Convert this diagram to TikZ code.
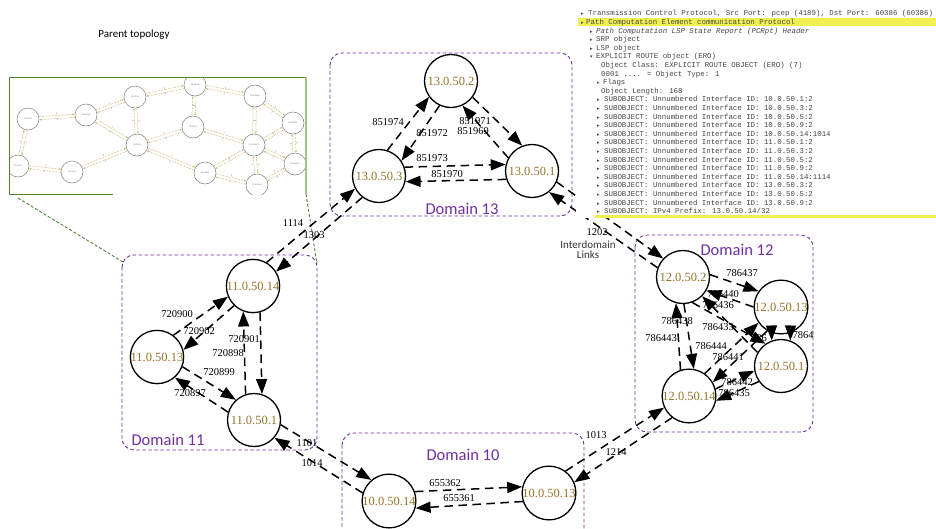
\documentclass[tikz,border=0pt]{standalone}
\usepackage{fontspec}
\setmainfont{Liberation Serif}
\newfontfamily\calfont{Carlito}
\newfontfamily\wsmono{Liberation Mono}
\newfontfamily\dvfont{DejaVu Sans}
\usetikzlibrary{arrows.meta}
\definecolor{dompurple}{RGB}{112,48,160}
\definecolor{nodegold}{RGB}{148,116,42}
\definecolor{pgreen}{RGB}{84,130,53}
\definecolor{plgreen}{RGB}{160,195,135}
\definecolor{ptan}{RGB}{214,190,120}
\definecolor{wsgray}{RGB}{70,70,70}
\definecolor{wsyellow}{RGB}{240,240,80}
\tikzset{
 rnode/.style={circle,draw=black,line width=1.3pt,fill=white,minimum size=53pt,inner sep=0pt,text=nodegold,font=\fontsize{12.5}{12}\selectfont},
 elab/.style={font=\fontsize{10.5}{10}\selectfont,inner sep=0pt,text=black},
 lnk/.style={draw=black,line width=1.5pt,dash pattern=on 8.5pt off 5.5pt,-{Triangle[length=15pt,width=11pt]}},
 dombox/.style={draw=dompurple,line width=0.9pt,dash pattern=on 3.5pt off 2.5pt,rounded corners=12pt},
 domlab/.style={font=\calfont\fontsize{16.5}{16}\selectfont,text=dompurple,inner sep=0pt},
 pnode/.style={circle,draw=gray,line width=0.5pt,fill=white,minimum size=22pt,inner sep=0pt,font=\fontsize{2.2}{2}\selectfont,text=darkgray},
 pe/.style={draw=ptan,line width=0.5pt,dash pattern=on 2pt off 1.2pt,-{Stealth[length=2.5pt,width=2pt]}},
 plab/.style={font=\fontsize{2.5}{2}\selectfont,inner sep=0.3pt,text=darkgray},
 wsl/.style={anchor=base west,inner sep=0pt,font=\wsmono\fontsize{7.4}{7}\selectfont,text=wsgray},
 wst/.style={anchor=base west,inner sep=0pt,font=\dvfont\fontsize{5}{5}\selectfont,text=wsgray},
 grline/.style={draw=pgreen,line width=0.9pt,dash pattern=on 3pt off 2pt},
}
\newcommand\pedge[3]{%
 \pgfmathtruncatemacro\peA{mod(#3+8+720,360)}%
 \pgfmathtruncatemacro\peB{mod(#3+172+720,360)}%
 \pgfmathtruncatemacro\peC{mod(#3+188+720,360)}%
 \pgfmathtruncatemacro\peD{mod(#3-8+720,360)}%
 \draw[pe] (#1.\peA) -- node[plab,above,sloped]{1} (#2.\peB);
 \draw[pe] (#2.\peC) -- node[plab,below,sloped]{2} (#1.\peD);}
\begin{document}
\begin{tikzpicture}[x=1pt,y=-1pt]
\useasboundingbox (0,0) rectangle (936,528);
\fill[white] (0,0) rectangle (936,528);

% domain boxes
\draw[dombox] (330,53) rectangle (572,216);
\draw[dombox] (635,235) rectangle (813,432);
\draw[dombox] (122,255) rectangle (317,450);
\draw[dombox] (342,433) rectangle (584,548);
\node[domlab] (d13) at (462,209) {Domain 13};
\node[domlab] (d12) at (737,250) {Domain 12};
\node[domlab] (d11) at (168,440) {Domain 11};
\node[domlab] (d10) at (463,455) {Domain 10};

% parent topology
\node[font=\calfont\fontsize{11}{11}\selectfont,inner sep=0pt] (ptitle) at (134,35) {Parent topology};
\coordinate (gA) at (18,198);
\coordinate (gB) at (123,262);
\coordinate (gC) at (306,194);
\coordinate (gD) at (317,264);
\draw[grline] (gA) -- (gB);
\draw[grline] (gC) -- (gD);
\begin{scope}
\clip (9,77) rectangle (306,194);
\node[pnode] (p2) at (28,119) {11.0.50.2};
\node[pnode] (p1) at (18,166) {11.0.50.1};
\node[pnode] (p3) at (72,172) {11.0.50.3};
\node[pnode] (p4) at (86,115) {11.0.50.4};
\node[pnode] (p6) at (135,97) {11.0.50.6};
\node[pnode] (p5) at (137,145) {11.0.50.5};
\node[pnode] (p8) at (195,85) {11.0.50.8};
\node[pnode] (p7) at (193,127) {11.0.50.7};
\node[pnode] (p10) at (255,96) {11.0.50.10};
\node[pnode] (p11) at (293,123) {11.0.50.11};
\node[pnode] (p12) at (254,145) {11.0.50.12};
\node[pnode] (p13) at (295,164) {11.0.50.13};
\node[pnode] (p9) at (205,173) {11.0.50.9};
\node[pnode] (p14) at (257,185) {11.0.50.14};
\pedge{p1}{p2}{78}
\pedge{p2}{p4}{4}
\pedge{p1}{p3}{-6}
\pedge{p3}{p5}{23}
\pedge{p4}{p6}{20}
\pedge{p4}{p5}{-30}
\pedge{p6}{p5}{-88}
\pedge{p6}{p8}{11}
\pedge{p5}{p7}{18}
\pedge{p8}{p7}{-93}
\pedge{p8}{p10}{-10}
\pedge{p7}{p12}{-16}
\pedge{p5}{p9}{-22}
\pedge{p10}{p12}{-91}
\pedge{p10}{p11}{-35}
\pedge{p11}{p12}{209}
\pedge{p11}{p13}{-87}
\pedge{p12}{p13}{-25}
\pedge{p12}{p9}{210}
\pedge{p12}{p14}{-86}
\pedge{p9}{p14}{-13}
\pedge{p14}{p13}{29}
\end{scope}
\draw[pgreen,line width=1pt] (113,194) -- (9,194) -- (9,77) -- (306,77);
\draw[plgreen,line width=1.5pt] (306,77) -- (306,194);

% main nodes
\node[rnode] (n13b) at (451,81) {13.0.50.2};
\node[rnode] (n13c) at (379,176) {13.0.50.3};
\node[rnode] (n13a) at (532,171) {13.0.50.1};
\node[rnode] (n12b) at (683,277) {12.0.50.2};
\node[rnode] (n12m) at (781,307) {12.0.50.13};
\node[rnode] (n12a) at (781,366) {12.0.50.1};
\node[rnode] (n12n) at (689,396) {12.0.50.14};
\node[rnode] (n11n) at (253,286) {11.0.50.14};
\node[rnode] (n11m) at (157,357) {11.0.50.13};
\node[rnode] (n11a) at (254,420) {11.0.50.1};
\node[rnode] (n10n) at (389,501) {10.0.50.14};
\node[rnode] (n10m) at (549,493) {10.0.50.13};

% edge labels
\node[elab] (l851974) at (388,122) {851974};
\node[elab] (l851972) at (432,133) {851972};
\node[elab] (l851971) at (475,121) {851971};
\node[elab] (l851969) at (473,131) {851969};
\node[elab] (l851973) at (432,158) {851973};
\node[elab] (l851970) at (447,174) {851970};
\node[elab] (l1114) at (293,223) {1114};
\node[elab] (l1303) at (314,235) {1303};
\node[elab] (l1202) at (597,232) {1202};
\node[elab] (l1101) at (307,443) {1101};
\node[elab] (l1014) at (312,463) {1014};
\node[elab] (l655362) at (445,483) {655362};
\node[elab] (l655361) at (459,498) {655361};
\node[elab] (l1013) at (596,435) {1013};
\node[elab] (l1214) at (616,452) {1214};
\node[elab] (l720900) at (177,314) {720900};
\node[elab] (l720902) at (199,331) {720902};
\node[elab] (l720901) at (244,339) {720901};
\node[elab] (l720898) at (228,353) {720898};
\node[elab] (l720899) at (219,372) {720899};
\node[elab] (l720897) at (190,393) {720897};
\node[elab] (l786437) at (742,273) {786437};
\node[elab] (l786440) at (723,294) {786440};
\node[elab] (l786436) at (718,305) {786436};
\node[elab] (l786438) at (677,321) {786438};
\node[elab] (l786443) at (661,338) {786443};
\node[elab] (l786433) at (718,327) {786433};
\node[elab] (l786444) at (711,346) {786444};
\node[elab] (l786441) at (728,357) {786441};
\node[elab] (l786442) at (737,382) {786442};
\node[elab] (l786435) at (734,393) {786435};
\node[elab] (l786) at (759,338) {786};
\node[elab] (l7864) at (803,335) {7864};
\node[font=\calfont\fontsize{11}{11}\selectfont,inner sep=0pt,text=black!80,align=center] (idl) at (588,250) {Interdomain\\[-1pt]Links};

% domain 13
\draw[lnk] (n13c.72) -- (n13b.216);
\draw[lnk] (n13b.245) -- (n13c.34);
\draw[lnk] (n13b.323) -- (n13a.111);
\draw[lnk] (n13a.151) -- (n13b.295);
\draw[lnk] (n13c.19) -- (n13a.166);
\draw[lnk] (n13a.198) -- (n13c.348);
% interdomain
\draw[lnk] (n11n.60) -- (n13c.208);
\draw[lnk] (n13c.232) -- (n11n.32);
\draw[lnk] (n13a.336) -- (n12b.137);
\draw[lnk] (n12b.160) -- (n13a.309);
\draw[lnk] (n11a.350) -- (n10n.130);
\draw[lnk] (n10n.163) -- (n11a.319);
\draw[lnk] (n10m.53) -- (n12n.205);
\draw[lnk] (n12n.232) -- (n10m.23);
% domain 10
\draw[lnk] (n10n.20) -- (n10m.167);
\draw[lnk] (n10m.198) -- (n10n.345);
% domain 11
\draw[lnk] (n11m.53) -- (n11n.203);
\draw[lnk] (n11n.226) -- (n11m.15);
\draw[lnk] (n11n.285) -- (n11a.73);
\draw[lnk] (n11a.108) -- (n11n.249);
\draw[lnk] (n11m.339) -- (n11a.132);
\draw[lnk] (n11a.163) -- (n11m.311);
% domain 12
\draw[lnk] (n12b.5) -- (n12m.145);
\draw[lnk] (n12m.180) -- (n12b.330);
\draw[lnk] (n12a.150) -- (n12b.315);
\draw[lnk] (n12b.290) -- (n12a.125);
\draw[lnk] (n12n.108) -- (n12b.255);
\draw[lnk] (n12b.272) -- (n12n.80);
\draw[lnk] (n12n.55) -- (n12m.215);
\draw[lnk] (n12m.240) -- (n12n.30);
\draw[lnk] (n12n.15) -- (n12a.190);
\draw[lnk] (n12a.215) -- (n12n.350);
\draw[lnk] (n12m.250) -- (n12a.110);
\draw[lnk] (n12m.290) -- (n12a.70);

% wireshark panel
\fill[white] (576,0) rectangle (936,218);
\fill[wsyellow] (578,18.3) rectangle (936,26.3);
\fill[wsyellow] (595,214.8) rectangle (936,218);
\node[wst] (wm0) at (581,15.8) {▸};
\node[wsl] (ws0) at (588,15.8) {Transmission Control Protocol, Src Port: pcep (4189), Dst Port: 60386 (60386)};
\node[wst] (wm1) at (581,24.4) {▸};
\node[wsl] (ws1) at (586,24.4) {Path Computation Element communication Protocol};
\node[wst] (wm2) at (590,33.0) {▸};
\node[wsl,font=\wsmono\itshape\fontsize{7.4}{7}\selectfont] (ws2) at (596,33.0) {Path Computation LSP State Report (PCRpt) Header};
\node[wst] (wm3) at (590,41.6) {▸};
\node[wsl] (ws3) at (596,41.6) {SRP object};
\node[wst] (wm4) at (590,50.2) {▸};
\node[wsl] (ws4) at (596,50.2) {LSP object};
\node[wst] (wm5) at (590,58.8) {▾};
\node[wsl] (ws5) at (596,58.8) {EXPLICIT ROUTE object (ERO)};
\node[wsl] (ws6) at (601,67.4) {Object Class: EXPLICIT ROUTE OBJECT (ERO) (7)};
\node[wsl] (ws7) at (601,76.0) {0001 .... = Object Type: 1};
\node[wst] (wm8) at (597,84.6) {▸};
\node[wsl] (ws8) at (603,84.6) {Flags};
\node[wsl] (ws9) at (601,93.2) {Object Length: 168};
\foreach \i/\t in {10/10.0.50.1:2,11/10.0.50.3:2,12/10.0.50.5:2,13/10.0.50.9:2,14/10.0.50.14:1014,15/11.0.50.1:2,16/11.0.50.3:2,17/11.0.50.5:2,18/11.0.50.9:2,19/11.0.50.14:1114,20/13.0.50.3:2,21/13.0.50.5:2,22/13.0.50.9:2}{
 \node[wst] (wm\i) at (597,15.8+8.6*\i) {▸};
 \node[wsl] (ws\i) at (604,15.8+8.6*\i) {SUBOBJECT: Unnumbered Interface ID: \t};
}
\node[wst] (wm23) at (597,213.6) {▸};
\node[wsl] (ws23) at (604,213.6) {SUBOBJECT: IPv4 Prefix: 13.0.50.14/32};
\end{tikzpicture}
\end{document}
